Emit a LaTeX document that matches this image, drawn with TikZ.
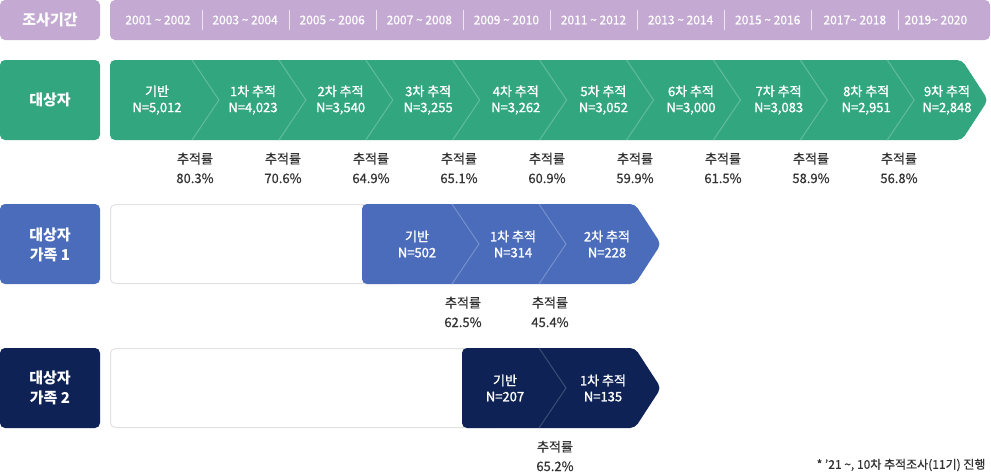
\documentclass[tikz,border=0pt]{standalone}
\usepackage{fontspec}
\setmainfont{Noto Sans CJK KR}
\newfontfamily\medf{Noto Sans CJK KR}[FakeBold=1.4]
\newfontfamily\semif{Noto Sans CJK KR}[FakeBold=0.7]
\definecolor{pur}{HTML}{C4AAD2}
\definecolor{grn}{HTML}{32A67F}
\definecolor{grnl}{HTML}{62BC9C}
\definecolor{blu}{HTML}{4A6CBA}
\definecolor{blul}{HTML}{7590CC}
\definecolor{nav}{HTML}{0E2255}
\definecolor{navl}{HTML}{3E4D76}
\definecolor{txt}{HTML}{333333}
\definecolor{bord}{HTML}{E2E2E2}
\tikzset{
  lbox/.style={rounded corners=5pt},
  lbl/.style={font=\fontsize{15}{20}\selectfont\bfseries, text=white, align=center},
  seg/.style={font=\fontsize{13}{16}\selectfont\medf, text=white, align=center},
  rate/.style={font=\fontsize{13}{19.5}\selectfont\semif, text=txt, align=center},
  yr/.style={font=\fontsize{12}{14}\selectfont\semif, text=white},
  note/.style={font=\fontsize{12}{14}\selectfont\semif, text=txt, anchor=east},
  divl/.style={line width=1pt},
}
\begin{document}
\begin{tikzpicture}[x=1pt,y=-1pt]
\useasboundingbox (0,0) rectangle (991,474);
% ---- row 0: survey period
\fill[pur,lbox] (0,0) rectangle (100,40);
\node[lbl] (h0) at (50,20) {조사기간};
\fill[pur,lbox] (110,0) rectangle (990,40);
\foreach \i in {0,...,8}{
  \draw[white!70!pur, line width=0.8pt] ({202+87.1*\i},10) -- ({202+87.1*\i},30);
}
\foreach \t [count=\i from 0] in {2001 \textasciitilde{} 2002,2003 \textasciitilde{} 2004,2005 \textasciitilde{} 2006,2007 \textasciitilde{} 2008,2009 \textasciitilde{} 2010,2011 \textasciitilde{} 2012,2013 \textasciitilde{} 2014,2015 \textasciitilde{} 2016,2017\textasciitilde{} 2018,2019\textasciitilde{} 2020}{
  \node[yr] (y\i) at ({158+87.1*\i-(\i==9?6:0)},20) {\t};
}
% ---- row 1
\fill[grn,lbox] (0,60) rectangle (100,140);
\node[lbl] (h1) at (50,100) {대상자};
\fill[grn,rounded corners=5pt] (110,60) -- (962,60) -- (988,100) -- (962,140) -- (110,140) -- cycle;
\foreach \i in {0,...,8}{
  \draw[grnl,divl] ({192+86.9*\i},60) -- ({219+86.9*\i},100) -- ({192+86.9*\i},140);
}
\node[seg] (a0) at (157,100) {기반\\N=5,012};
\foreach \nn/\vv [count=\i] in {1/{4,023},2/{3,540},3/{3,255},4/{3,262},5/{3,052},6/{3,000},7/{3,083},8/{2,951}}{
  \node[seg] (a\i) at ({253+87.6*(\i-1)},100) {{\nn}차 추적\\N={\vv}};
}
\node[seg] (a9) at (947,100) {9차 추적\\N=2,848};
\foreach \rr [count=\i from 0] in {80.3,70.6,64.9,65.1,60.9,59.9,61.5,58.9,56.8}{
  \node[rate] (ra\i) at ({195+88*\i},168) {추적률\\{\rr}\%};
}
% ---- row 2
\fill[blu,lbox] (0,204) rectangle (100,284);
\node[lbl] (h2) at (50,245) {대상자\\가족 1};
\draw[bord,fill=white,rounded corners=5pt,line width=1pt] (110.5,204.5) rectangle (400,283.5);
\fill[blu,rounded corners=5pt] (362,204) -- (635,204) -- (661,244) -- (635,284) -- (362,284) -- cycle;
\foreach \x in {452,539}{
  \draw[blul,divl] (\x,204) -- (\x+27,244) -- (\x,284);
}
\node[seg] (b0) at (417,244) {기반\\N=502};
\node[seg] (b1) at (513,244) {1차 추적\\N=314};
\node[seg] (b2) at (607,244) {2차 추적\\N=228};
\node[rate] (rb0) at (463,312) {추적률\\62.5\%};
\node[rate] (rb1) at (550,312) {추적률\\45.4\%};
% ---- row 3
\fill[nav,lbox] (0,348) rectangle (100,428);
\node[lbl] (h3) at (50,388) {대상자\\가족 2};
\draw[bord,fill=white,rounded corners=5pt,line width=1pt] (110.5,348.5) rectangle (500,427.5);
\fill[nav,rounded corners=5pt] (462,348) -- (635,348) -- (661,388) -- (635,428) -- (462,428) -- cycle;
\draw[navl,divl] (539,348) -- (566,388) -- (539,428);
\node[seg] (c0) at (505,388) {기반\\N=207};
\node[seg] (c1) at (603,388) {1차 추적\\N=135};
\node[rate] (rc0) at (555,456) {추적률\\65.2\%};
% ---- footnote
\node[note] (fn) at (989,465) {* ’21 \textasciitilde, 10차 추적조사(11기) 진행};
\end{tikzpicture}
\end{document}
